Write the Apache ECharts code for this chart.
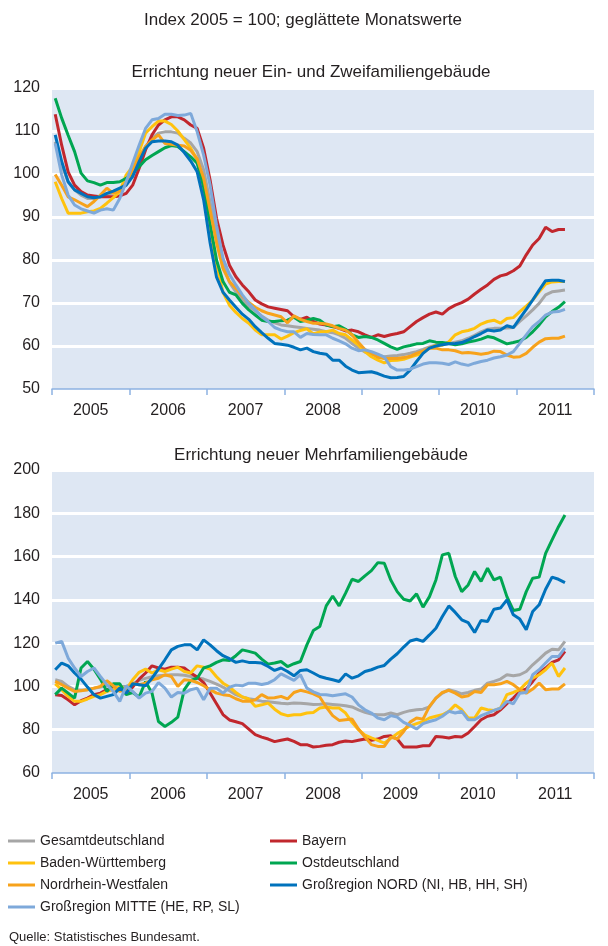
<!DOCTYPE html>
<html lang="de">
<head>
    <meta charset="UTF-8">
    <title>Baugenehmigungen Index</title>
    <script src="https://cdn.jsdelivr.net/npm/echarts@6/dist/echarts.min.js"></script>
    <style>
        html, body { margin: 0; padding: 0; background: #fff; }
    </style>
</head>
<body>
<div id="main" style="width: 608px;height:946px;"></div>

<script type="text/javascript">
    // Achsen / Legende
    var years = ['2005', '2006', '2007', '2008', '2009', '2010', '2011'];
    var names = ['Gesamtdeutschland', 'Bayern', 'Baden-Württemberg', 'Ostdeutschland',
        'Nordrhein-Westfalen', 'Großregion NORD (NI, HB, HH, SH)', 'Großregion MITTE (HE, RP, SL)'];
    var colors = ['#A6A6A6', '#C1272D', '#FFC20E', '#00A651', '#F7A21B', '#0072BC', '#7EA9DA'];

    // Ein- und Zweifamiliengebäude, Monatswerte Jan 2005 - Aug 2011
    var einGesamt = [107.5, 102.1, 98.2, 96.3, 95.1, 94.3, 94.3, 94.7, 95.1, 95.7, 96.3, 97.4,
        99.8, 102.9, 106.4, 108.3, 109.5, 109.8, 109.8, 109.5, 108.3, 107.2, 105.2, 101,
        93.5, 86, 79, 74.8, 72.6, 70.7, 69.3, 68.2, 67, 66, 65.4, 64.9,
        64.7, 64.5, 64.3, 64.1, 63.9, 63.7, 63.3, 63.1, 62.6, 61.8, 60.6, 59.5,
        58.6, 58.1, 57.8, 57.5, 57.7, 57.8, 58, 58.3, 58.7, 59.2, 59.8, 60.2,
        60.4, 60.6, 60.9, 61.2, 61.8, 62.5, 63.3, 63.9, 64.1, 64.1, 64.2, 64.3,
        65.7, 67, 68.4, 69.9, 71.9, 72.6, 72.8, 73];
    var einBayern = [113.9, 106.7, 100.5, 97.4, 95.9, 95.1, 94.9, 94.7, 94.7, 94.7, 94.9, 95.5,
        97.4, 101.3, 105.6, 109.1, 111.4, 112.6, 113.3, 113.3, 112.6, 111.4, 110.6, 106,
        98.6, 89.7, 83.5, 78.8, 76.1, 74.2, 72.6, 70.7, 69.8, 69.1, 68.8, 68.5,
        68.2, 66.8, 66.2, 66.7, 65.7, 65.1, 64.9, 64.5, 64.1, 63.5, 63.7, 63.3,
        62.6, 62, 62.6, 62.2, 62.6, 62.9, 63.3, 64.5, 65.7, 66.6, 67.4, 67.9,
        67.4, 68.7, 69.5, 70.1, 70.9, 72.1, 73.2, 74.2, 75.5, 76.3, 76.7, 77.5,
        78.6, 81.2, 83.5, 85, 87.6, 86.6, 87.1, 87.1];
    var einBW = [98.2, 94.3, 90.9, 90.9, 90.9, 91.2, 91.4, 92, 93.2, 94.5, 95.9, 99.8,
        101.7, 105.2, 109.5, 111, 112.3, 112.3, 111.5, 110, 108, 106, 103.3, 96,
        87.5, 79, 72.5, 69.5, 67.8, 66.4, 65.3, 63.7, 62.6, 62.6, 62.6, 61.6,
        62.3, 63.1, 63.6, 64, 62.8, 63.3, 63.3, 63.7, 62.9, 62.6, 61.4, 60.2,
        58.7, 57.5, 56.7, 56.1, 56.6, 56.7, 56.9, 57.4, 57.9, 58.4, 59.5, 60.2,
        60.2, 61, 62.6, 63.3, 63.6, 64.1, 65.1, 65.7, 66, 65.3, 66.4, 66.6,
        68, 69.3, 70.7, 72.6, 74.4, 74.9, 75, 75];
    var einOst = [117.6, 113, 109, 105.2, 100.2, 98.4, 98, 97.4, 98, 98, 98.2, 99,
        100.2, 101.7, 103.3, 104.3, 105.2, 106.1, 106.6, 106.4, 105.2, 104, 102.5, 97,
        88.5, 80, 75, 72.5, 71.9, 69.9, 68.4, 67.2, 66, 65.7, 65.7, 65.9,
        66, 66.7, 65.7, 66, 66.4, 66, 64.9, 64.5, 64.7, 63.9, 62.6, 62,
        62.2, 62, 61.4, 60.6, 59.8, 59.2, 59.8, 60.1, 60.5, 60.6, 61.2, 60.9,
        60.8, 60.6, 60.3, 60.5, 60.9, 61.2, 61.6, 62.2, 61.9, 61.2, 60.5, 60.8,
        61.2, 62, 63.3, 64.9, 66.8, 68, 69, 70.3];
    var einNRW = [99.9, 97.4, 94.7, 94, 93.2, 92.4, 93.6, 95.1, 96.7, 95.5, 96, 98.2,
        100.9, 104, 106.4, 107.9, 109.1, 107.1, 106.9, 106.7, 106.5, 105.5, 103.5, 99,
        91.5, 84, 78, 75, 73.4, 71.6, 70.1, 69, 68.2, 67.6, 67.2, 66.8,
        65.4, 67, 66.2, 65.7, 65.3, 65.3, 65.1, 64.7, 64.1, 63.7, 62.6, 60.8,
        59.2, 58.3, 57.4, 57.1, 57.1, 57.1, 57.3, 57.6, 58.3, 58.8, 59.5, 59.5,
        59.1, 59.1, 58.9, 58.4, 58.5, 58.3, 58.1, 58.3, 58.8, 58.7, 57.9, 57.4,
        57.5, 58.3, 59.7, 60.9, 61.7, 61.8, 61.8, 62.3];
    var einNord = [109.1, 102.9, 98.2, 96.3, 95.5, 94.7, 94.5, 94.7, 95.5, 96, 96.7, 97.4,
        99.4, 102.9, 106, 107.5, 107.7, 107.7, 107.5, 106.7, 105, 103, 100.5, 94,
        84, 76, 72.5, 70.7, 69, 67.4, 66.2, 64.5, 63.1, 61.8, 60.6, 60.4,
        60.2, 59.7, 59.1, 59.5, 58.7, 58.3, 58.1, 56.7, 56.7, 55.3, 54.4, 53.8,
        53.9, 54, 53.6, 53, 52.6, 52.7, 52.9, 54.4, 56.4, 58.3, 59.5, 60,
        60.3, 60.5, 60.6, 60.8, 61.4, 62.2, 62.9, 63.7, 63.5, 63.7, 64.7, 64.3,
        66.4, 68.5, 70.7, 73, 75.2, 75.3, 75.3, 75];
    var einMitte = [107.1, 99.8, 95.1, 92.8, 91.9, 91.4, 90.9, 91.6, 91.9, 91.6, 94.3, 98.2,
        102.5, 106.7, 110.6, 112.6, 112.9, 113.9, 113.9, 113.6, 113.7, 114.1, 109.8, 104.4,
        97.4, 88.1, 80.4, 76.7, 74.2, 71.9, 69.9, 68.4, 66.8, 65.7, 64.3, 63.7,
        63.3, 63.3, 62, 62.9, 62.7, 62.6, 62.6, 61.8, 61.2, 60.5, 59.5, 58.9,
        59.1, 58.7, 58.1, 57.4, 55.2, 54.4, 54.4, 54.6, 55.2, 55.8, 56.1, 56.1,
        56, 55.7, 56.3, 55.8, 55.5, 56, 56.4, 56.7, 57.2, 57.5, 57.9, 58.7,
        60.6, 62.6, 64.5, 65.7, 67.2, 67.9, 68, 68.5];

    // Mehrfamiliengebäude
    var mehrGesamt = [103.1, 102.3, 100, 98.5, 98.2, 98.5, 99.2, 99.7, 100.3, 100.3, 100, 100,
        101.2, 102.8, 103.7, 104.5, 104.9, 105.2, 105.4, 105.4, 105.2, 104.6, 104, 103.4,
        102.3, 101.1, 99.7, 98, 96.2, 95.1, 94.3, 93.8, 93.2, 92.9, 92.6, 92.2,
        92, 92.3, 92.2, 92, 91.7, 91.8, 92, 91.7, 91.4, 91.1, 90.5, 89.2,
        88, 87.2, 86.9, 86.9, 87.7, 86.9, 88, 88.8, 89.2, 89.5, 90.5, 94.6,
        96.9, 98.5, 97.7, 96.6, 97.2, 98.2, 98.8, 101.5, 102.3, 103.4, 105.4, 104.9,
        105.4, 106.9, 110, 112.6, 115.4, 117.2, 116.9, 120.8];
    var mehrBayern = [96.2, 95.8, 93.8, 91.5, 93.4, 94.6, 96.2, 96.9, 98.5, 99.2, 98.5, 97.2,
        99.7, 103.4, 106.2, 109.5, 108.5, 108, 108.9, 108.9, 108.5, 106.2, 104.3, 101.8,
        97, 92, 87, 84.5, 83.7, 82.8, 80.3, 77.7, 76.6, 75.7, 74.5, 75.1,
        75.7, 74.6, 73.1, 73.1, 72, 72.3, 72.8, 73.1, 74.2, 74.8, 74.5, 75.1,
        75.7, 75.1, 75.7, 76.9, 77.2, 75.7, 72, 72, 72, 72.6, 72.6, 76.9,
        76.6, 76.2, 76.9, 76.6, 78.5, 81.5, 84.6, 86.2, 86.9, 89.2, 92, 94.6,
        97.7, 98.8, 102.3, 106.2, 108.5, 111.1, 112.3, 116.2];
    var mehrBW = [101.2, 98.5, 95.4, 93.1, 93.1, 94.2, 95.4, 96.2, 97.7, 98.5, 100, 98.5,
        103.1, 106.5, 108, 106.2, 107.7, 106.9, 108, 108.9, 106.9, 106.2, 109.5, 108.9,
        108, 104.5, 101.5, 99.7, 97.2, 95.1, 94.2, 90.8, 91.5, 92.3, 89.5, 87.4,
        86.5, 86.9, 86.9, 87.7, 88, 90, 90.5, 90, 90, 87.7, 83.4, 80,
        77.5, 76.2, 75.1, 73.8, 76, 78.2, 80, 81.8, 82.8, 83.8, 85.4, 86.2,
        86.9, 88.5, 91.5, 89.2, 85.4, 85.4, 90, 89.2, 88.9, 90, 96.2, 97.2,
        98.5, 101.5, 103.8, 105.4, 107.7, 110.8, 104.6, 108.5];
    var mehrOst = [96.2, 99.2, 96.9, 94.6, 108.5, 111.5, 108, 103.4, 97.7, 101.2, 101.2, 96.2,
        97.2, 95.1, 102.3, 96.9, 83.8, 81.5, 83.4, 85.8, 98.5, 102.8, 103.8, 108.5,
        109.5, 111.1, 112.3, 112, 114.2, 116.9, 116.2, 115.4, 112.6, 110.3, 110.8, 111.5,
        109.2, 110.5, 111.5, 119.2, 125.8, 127.7, 137.2, 141.8, 137.2, 143.1, 149.5, 148.5,
        151.1, 153.5, 157.2, 156.9, 149.2, 143.8, 140.3, 139.5, 142.8, 136.6, 141.5, 149.2,
        160.8, 161.5, 150.8, 143.8, 146.9, 153.1, 148.5, 154.6, 149.2, 150.5, 141.5, 135.1,
        135.7, 143.8, 150, 150.5, 161.5, 167.7, 173.8, 179.2];
    var mehrNRW = [102.3, 100.8, 99.2, 97.7, 98, 98.5, 99.2, 100, 102.6, 100.3, 97.7, 98.5,
        101.5, 100.8, 101.5, 103.1, 103.8, 105.4, 104.6, 100, 103.1, 102.8, 101.8, 100.3,
        98.5, 96.9, 96.2, 95.8, 94.3, 93.2, 93.1, 93.8, 96.2, 94.6, 94.8, 95.4,
        94.2, 97.2, 98.2, 97.5, 96.6, 95.1, 90.5, 86.5, 84.3, 84.6, 84.9, 80.3,
        76.6, 73.1, 72.3, 72.3, 76.6, 75.7, 79.2, 83.5, 85.4, 84.9, 90.8, 94.6,
        97.2, 98.2, 96.9, 95.1, 95.7, 97.7, 97.2, 100.8, 100.8, 101.2, 102.3, 100.8,
        98.5, 96.9, 98.8, 101.5, 98.5, 98.8, 98.8, 101.2];
    var mehrNord = [107.7, 110.8, 109.5, 106.2, 103.4, 99.7, 96.2, 94.6, 95.4, 96.2, 99.2, 96.9,
        101.2, 100.8, 100.3, 103.8, 108, 112.3, 116.9, 118.5, 119.2, 119.2, 116.9, 121.5,
        119.2, 116.5, 114.2, 112.8, 111.1, 111.8, 111.1, 111.1, 110.8, 109.2, 107.4, 108.5,
        106.9, 104.9, 107.4, 107.7, 106.2, 104.6, 103.8, 103.1, 102.3, 105.8, 103.8, 104.9,
        106.9, 107.7, 108.9, 109.7, 112.6, 115.1, 118.2, 121, 121.8, 120.8, 123.8, 126.9,
        132.3, 137.2, 134.2, 130.8, 129.5, 124.9, 130.5, 130, 135.7, 136.2, 140, 133.1,
        131.1, 126.2, 134.6, 137.7, 144.9, 150.5, 149.5, 148];
    var mehrMitte = [120, 120.8, 113.1, 108.5, 104.6, 106.9, 108.5, 104.6, 100.8, 97.7, 93.1, 100.3,
        97.7, 94.6, 96.9, 97.7, 101.8, 99.2, 95.1, 97.2, 96.9, 98.5, 99.2, 93.8,
        99.2, 99.2, 96.9, 99.6, 100.6, 100.3, 101.5, 101.5, 100.9, 101.5, 103.1, 105.8,
        104.3, 102.8, 105.4, 99.2, 97.5, 96.3, 96.2, 95.7, 96.2, 96.6, 95.1, 91.5,
        89.2, 87.7, 85.4, 84.6, 86.5, 85.8, 83.4, 82, 80.3, 82.8, 83.8, 84.6,
        86.2, 88.5, 87.7, 88.5, 84.6, 84.6, 86.5, 87.7, 88.9, 90, 93.1, 92,
        96.9, 97.2, 105.4, 107.7, 110.8, 113.8, 113.8, 117.7];

    var einData = [einGesamt, einBayern, einBW, einOst, einNRW, einNord, einMitte];
    var mehrData = [mehrGesamt, mehrBayern, mehrBW, mehrOst, mehrNRW, mehrNord, mehrMitte];

    var textColor = '#231F20';
    var axisBlue = '#8DB3E2';

    // Monatswert i liegt in der Mitte des Monats i auf der Monatsachse (0..84)
    function monthPoints(arr) {
        return arr.map(function (v, i) { return [i + 0.5, v]; });
    }

    function makeSeries(dataList, chartIdx) {
        return dataList.map(function (arr, k) {
            return {
                name: names[k],
                type: 'line',
                xAxisIndex: chartIdx * 2 + 1,
                yAxisIndex: chartIdx,
                data: monthPoints(arr),
                showSymbol: false,
                symbol: 'none',
                color: colors[k],
                lineStyle: { width: 3, color: colors[k] },
                z: 3 + k
            };
        });
    }

    function yearAxis(gridIdx) {
        return {
            type: 'category',
            gridIndex: gridIdx,
            data: years,
            boundaryGap: true,
            axisLine: { lineStyle: { color: axisBlue, width: 1.5 } },
            axisTick: { show: true, length: 6, lineStyle: { color: axisBlue, width: 1.5 } },
            axisLabel: { fontSize: 16, color: textColor, margin: 14 },
            splitLine: { show: false }
        };
    }

    function monthAxis(gridIdx) {
        return { type: 'value', gridIndex: gridIdx, min: 0, max: 84, show: false };
    }

    function valueAxis(gridIdx, min, max, step) {
        return {
            type: 'value',
            gridIndex: gridIdx,
            min: min,
            max: max,
            interval: step,
            axisLine: { show: false },
            axisTick: { show: false },
            axisLabel: { fontSize: 16, color: textColor, margin: 12 },
            splitLine: { show: true, showMinLine: false, lineStyle: { color: '#ffffff', width: 3 } }
        };
    }

    var titleFont = { fontSize: 17, fontWeight: 'normal', color: textColor };

    var myChart = echarts.init(document.getElementById('main'));

    myChart.setOption({
        animation: false,
        textStyle: { fontFamily: 'Liberation Sans, Arial, sans-serif' },
        title: [
            { text: 'Index 2005 = 100; geglättete Monatswerte', left: 303, top: 12, textAlign: 'center', padding: 0,
              textStyle: titleFont },
            { text: 'Errichtung neuer Ein- und Zweifamiliengebäude', left: 311, top: 64, textAlign: 'center', padding: 0,
              textStyle: titleFont },
            { text: 'Errichtung neuer Mehrfamiliengebäude', left: 321, top: 447, textAlign: 'center', padding: 0,
              textStyle: titleFont }
        ],
        grid: [
            { left: 52, top: 88, width: 542, height: 301, show: true, backgroundColor: '#DEE7F3', borderWidth: 0 },
            { left: 52, top: 470, width: 542, height: 303, show: true, backgroundColor: '#DEE7F3', borderWidth: 0 }
        ],
        xAxis: [yearAxis(0), monthAxis(0), yearAxis(1), monthAxis(1)],
        yAxis: [valueAxis(0, 50, 120, 10), valueAxis(1, 60, 200, 20)],
        legend: [
            { data: [names[0], names[2], names[4], names[6]], orient: 'vertical', left: 8, top: 833, padding: 0,
              icon: 'rect', itemWidth: 27, itemHeight: 3, itemGap: 6,
              textStyle: { fontSize: 14, color: textColor, lineHeight: 16 } },
            { data: [names[1], names[3], names[5]], orient: 'vertical', left: 270, top: 833, padding: 0,
              icon: 'rect', itemWidth: 27, itemHeight: 3, itemGap: 6,
              textStyle: { fontSize: 14, color: textColor, lineHeight: 16 } }
        ],
        graphic: [
            { type: 'text', left: 9, top: 931, style: { text: 'Quelle: Statistisches Bundesamt.', fontSize: 13,
              fill: textColor, fontFamily: 'Liberation Sans, Arial, sans-serif' } }
        ],
        series: makeSeries(einData, 0).concat(makeSeries(mehrData, 1))
    });
</script>
</body>
</html>
